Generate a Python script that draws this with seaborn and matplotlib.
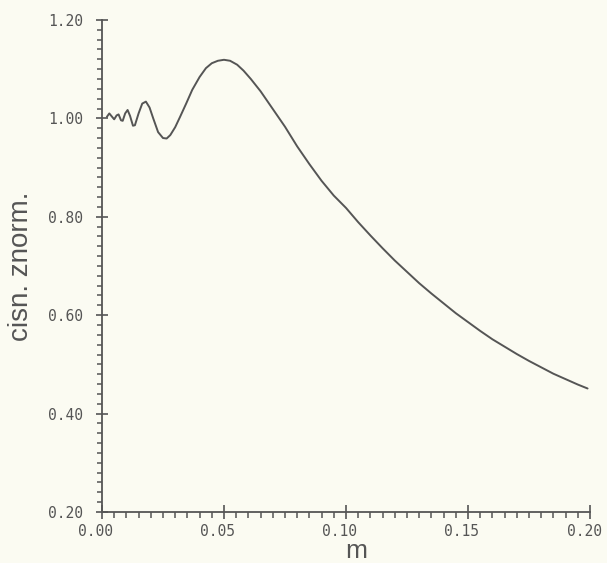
import matplotlib
matplotlib.use("Agg")
import matplotlib.pyplot as plt
from matplotlib.ticker import MultipleLocator, FormatStrFormatter
from matplotlib.transforms import ScaledTranslation
import seaborn as sns
import pandas as pd

# data
m_values = [0.0020, 0.0030, 0.0040, 0.0050, 0.0060, 0.0068, 0.0078, 0.0085,
            0.0095, 0.0105, 0.0115, 0.0127, 0.0135, 0.0150, 0.0165, 0.0180,
            0.0195, 0.0210, 0.0230, 0.0250, 0.0265, 0.0280, 0.0300, 0.0320,
            0.0345, 0.0370, 0.0400, 0.0426, 0.0450, 0.0475, 0.0500, 0.0525,
            0.0554, 0.0580, 0.0610, 0.0650, 0.0700, 0.0750, 0.0800, 0.0850,
            0.0900, 0.0950, 0.1000, 0.1050, 0.1100, 0.1150, 0.1200, 0.1250,
            0.1300, 0.1350, 0.1400, 0.1450, 0.1500, 0.1550, 0.1600, 0.1650,
            0.1700, 0.1750, 0.1800, 0.1850, 0.1900, 0.1950, 0.1990]
cisn_values = [1.003, 1.010, 1.004, 0.998, 1.006, 1.008, 0.996, 0.995,
               1.010, 1.017, 1.005, 0.985, 0.986, 1.010, 1.030, 1.034,
               1.022, 1.000, 0.972, 0.960, 0.959, 0.966, 0.982, 1.003,
               1.030, 1.058, 1.084, 1.102, 1.112, 1.117, 1.119, 1.117,
               1.109, 1.097, 1.080, 1.055, 1.019, 0.983, 0.943, 0.907,
               0.873, 0.843, 0.818, 0.789, 0.762, 0.736, 0.711, 0.688,
               0.665, 0.644, 0.624, 0.604, 0.586, 0.568, 0.551, 0.536,
               0.521, 0.507, 0.494, 0.481, 0.470, 0.459, 0.451]
x_ticks = [0.00, 0.05, 0.10, 0.15, 0.20]
y_ticks = [0.20, 0.40, 0.60, 0.80, 1.00, 1.20]

df = pd.DataFrame({"m": m_values, "cisn": cisn_values})

bg = "#fbfbf2"
ink = "#555555"

sns.set_theme(style="ticks")
plt.rcParams["font.family"] = ["DejaVu Sans"]

fig = plt.figure(figsize=(6.07, 5.63), dpi=100, facecolor=bg)
ax = fig.add_axes([0.168, 0.0906, 0.804, 0.874])
ax.set_facecolor(bg)

sns.lineplot(data=df, x="m", y="cisn", ax=ax, color=ink, linewidth=1.4, sort=False)

ax.set_xlim(0.0, 0.20)
ax.set_ylim(0.20, 1.20)
ax.set_xticks(x_ticks)
ax.set_yticks(y_ticks)
ax.xaxis.set_minor_locator(MultipleLocator(0.005))
ax.yaxis.set_minor_locator(MultipleLocator(0.02))
ax.xaxis.set_major_formatter(FormatStrFormatter("%.2f"))
ax.yaxis.set_major_formatter(FormatStrFormatter("%.2f"))

for s in ["top", "right"]:
    ax.spines[s].set_visible(False)
for s in ["left", "bottom"]:
    ax.spines[s].set_color(ink)
    ax.spines[s].set_linewidth(1.3)

ax.tick_params(axis="x", which="major", direction="inout", length=10, width=1.2,
               color=ink, labelcolor=ink, pad=4, labelsize=10.5)
ax.tick_params(axis="x", which="minor", direction="out", length=4.5, width=1.1, color=ink)
ax.tick_params(axis="y", which="major", direction="inout", length=9, width=1.2,
               color=ink, labelcolor=ink, pad=9, labelsize=10.5)
ax.tick_params(axis="y", which="minor", direction="out", length=3.8, width=1.1, color=ink)
for lab in ax.get_xticklabels() + ax.get_yticklabels():
    lab.set_family(["DejaVu Sans Mono"])
shift = ScaledTranslation(-6 / 100, 0, fig.dpi_scale_trans)
for lab in ax.get_xticklabels():
    lab.set_transform(lab.get_transform() + shift)

ax.set_xlabel("m", fontsize=19, color=ink, family=["Liberation Sans", "DejaVu Sans"])
ax.set_ylabel("cisn. znorm.", fontsize=20, color=ink, family=["Liberation Sans", "DejaVu Sans"])
ax.xaxis.set_label_coords(0.52, -0.055)
ax.yaxis.set_label_coords(-0.14, 0.5)

fig.savefig("out.png", dpi=100, facecolor=bg)
